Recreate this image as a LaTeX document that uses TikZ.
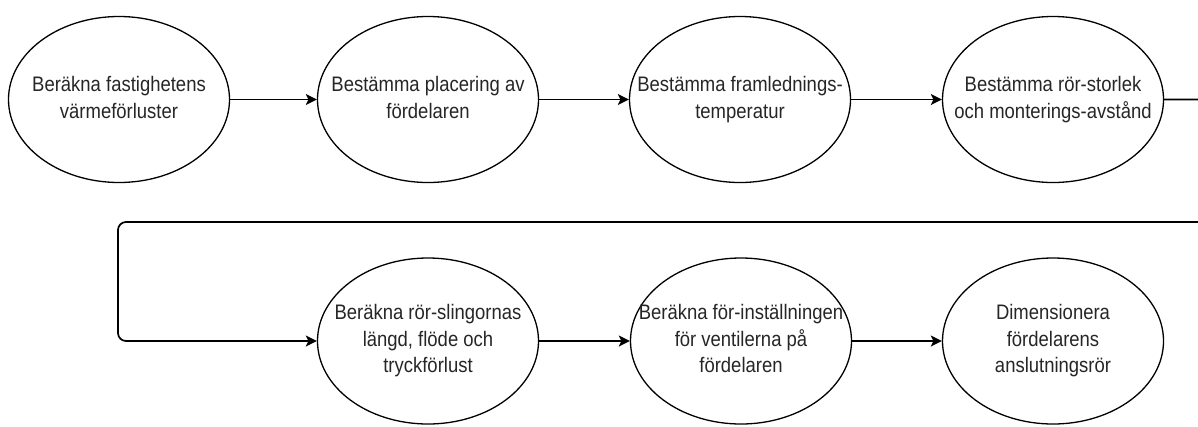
\documentclass[tikz,border=0pt]{standalone}
\usepackage{fontspec}
\setmainfont[FakeStretch=0.88]{Liberation Sans}
\usetikzlibrary{shapes.geometric,arrows.meta}
\definecolor{txt}{HTML}{262626}
\newcommand\steptext[1]{\makebox[0pt][c]{\begin{tabular}{@{}c@{}}#1\end{tabular}}}
\tikzset{
  stepnode/.style={ellipse,draw=black,line width=1.3pt,minimum width=221pt,minimum height=166pt,inner sep=0pt,
    text=txt,font=\fontsize{21}{26.5}\selectfont},
  conn/.style={draw=black,line width=1.7pt,-{Stealth[length=11pt,width=11pt,inset=2.5pt]}}
}
\begin{document}
\begin{tikzpicture}[x=1pt,y=-1pt]
\useasboundingbox (0,0) rectangle (1198,426);
\clip (0,0) rectangle (1198,426);
\node[stepnode] (a) at (119,99.5) {\steptext{Beräkna fastighetens\\värmeförluster}};
\node[stepnode] (b) at (428,99.5) {\steptext{Bestämma placering av\\fördelaren}};
\node[stepnode] (c) at (740,99.5) {\steptext{Bestämma framlednings-\\temperatur}};
\node[stepnode] (d) at (1053,99.5) {\steptext{Bestämma rör-storlek\\och monterings-avstånd}};
\node[stepnode] (e) at (428,341) {\steptext{Beräkna rör-slingornas\\längd, flöde och\\tryckförlust}};
\node[stepnode] (f) at (741,341) {\steptext{Beräkna för-inställningen\\för ventilerna på\\fördelaren}};
\node[stepnode] (g) at (1053,341) {\steptext{Dimensionera\\fördelarens\\anslutningsrör}};
\coordinate (r1) at (1208,222);
\coordinate (l1) at (118,222);
\draw[conn] (a) -- (b);
\draw[conn] (b) -- (c);
\draw[conn] (c) -- (d);
\draw[conn,rounded corners=8pt] (d.east) -| (r1) -- (l1) |- (e.west);
\draw[conn] (e) -- (f);
\draw[conn] (f) -- (g);
\end{tikzpicture}
\end{document}
